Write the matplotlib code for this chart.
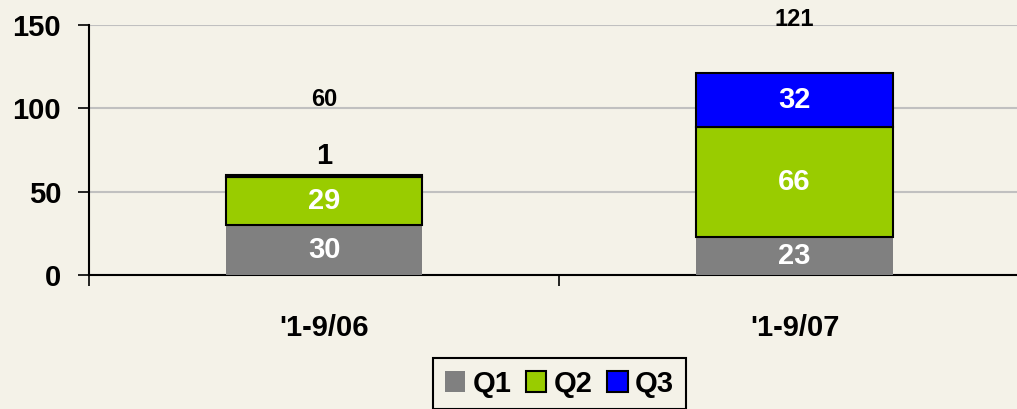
import numpy as np
import matplotlib.pyplot as plt

# ============================================================
#  Data
# ============================================================
categories = ["'1-9/06", "'1-9/07"]
q1 = [30, 23]
q2 = [29, 66]
q3 = [1, 32]
totals = [60, 121]
series_names = ["Q1", "Q2", "Q3"]
series_colors = ["#808080", "#99CC00", "#0000FF"]

bg = "#F4F2E8"
plt.rcParams['font.family'] = ['Liberation Sans', 'DejaVu Sans']
plt.rcParams['font.weight'] = 'bold'

fig = plt.figure(figsize=(10.17, 4.09), dpi=100, facecolor=bg)
ax = fig.add_axes([0.0875, 0.328, 0.925, 0.611], facecolor=bg)

fs = 21

x = np.arange(len(categories))
w = 0.417
b1 = ax.bar(x, q1, w, color=series_colors[0], edgecolor="none", label=series_names[0], zorder=3)
b2 = ax.bar(x, q2, w, bottom=q1, color=series_colors[1], edgecolor="black", linewidth=1.5,
            label=series_names[1], zorder=3)
bottom3 = np.array(q1) + np.array(q2)
b3 = ax.bar(x, q3, w, bottom=bottom3, color=series_colors[2], edgecolor="black", linewidth=1.5,
            label=series_names[2], zorder=3)

# segment labels
for i in range(len(categories)):
    ax.text(x[i], q1[i] / 2, str(q1[i]), ha="center", va="center", color="white",
            fontsize=fs, fontweight="bold", zorder=4)
    ax.text(x[i], q1[i] + q2[i] / 2, str(q2[i]), ha="center", va="center", color="white",
            fontsize=fs, fontweight="bold", zorder=4)
# Q3 labels: first one sits above the thin segment
ax.text(x[0], 71.5, str(q3[0]), ha="center", va="center", color="black",
        fontsize=fs, fontweight="bold", zorder=4)
ax.text(x[1], bottom3[1] + q3[1] / 2, str(q3[1]), ha="center", va="center", color="white",
        fontsize=fs, fontweight="bold", zorder=4)
# totals
ax.text(x[0], 105, str(totals[0]), ha="center", va="center", color="black",
        fontsize=17, fontweight="bold", zorder=4)
ax.text(x[1], 153, str(totals[1]), ha="center", va="center", color="black",
        fontsize=17, fontweight="bold", zorder=4, clip_on=False)

ax.set_xlim(-0.5, 1.5)
ax.set_ylim(0, 150)
ax.set_yticks([0, 50, 100, 150])
ax.yaxis.grid(True, color="#C0C0C0", linewidth=1.5, zorder=0)
ax.set_axisbelow(True)

ax.set_xticks(x)
ax.set_xticklabels(categories, fontsize=fs, fontweight="bold")
ax.set_xticks([-0.5, 0.5, 1.5], minor=True)
ax.tick_params(axis="x", which="major", length=0, pad=28)
ax.tick_params(axis="x", which="minor", length=8, width=1.2, direction="out")
ax.tick_params(axis="y", length=8, width=1.2, direction="out", labelsize=fs, pad=12)
for lab in ax.get_yticklabels():
    lab.set_fontweight("bold")

for s in ["top", "right"]:
    ax.spines[s].set_visible(False)
ax.spines["left"].set_linewidth(1.5)
ax.spines["bottom"].set_linewidth(1.5)

leg = fig.legend(handles=[b1, b2, b3], labels=series_names, loc="upper center",
                 bbox_to_anchor=(0.550, 0.16), ncol=3, frameon=True,
                 fancybox=False, edgecolor="black", facecolor=bg, framealpha=1,
                 prop={"size": fs, "weight": "bold"}, handlelength=0.7, handleheight=0.7,
                 handletextpad=0.25, columnspacing=0.5, borderpad=0.4)
leg.get_frame().set_linewidth(1.5)

fig.savefig("out.png", dpi=100, facecolor=bg)
